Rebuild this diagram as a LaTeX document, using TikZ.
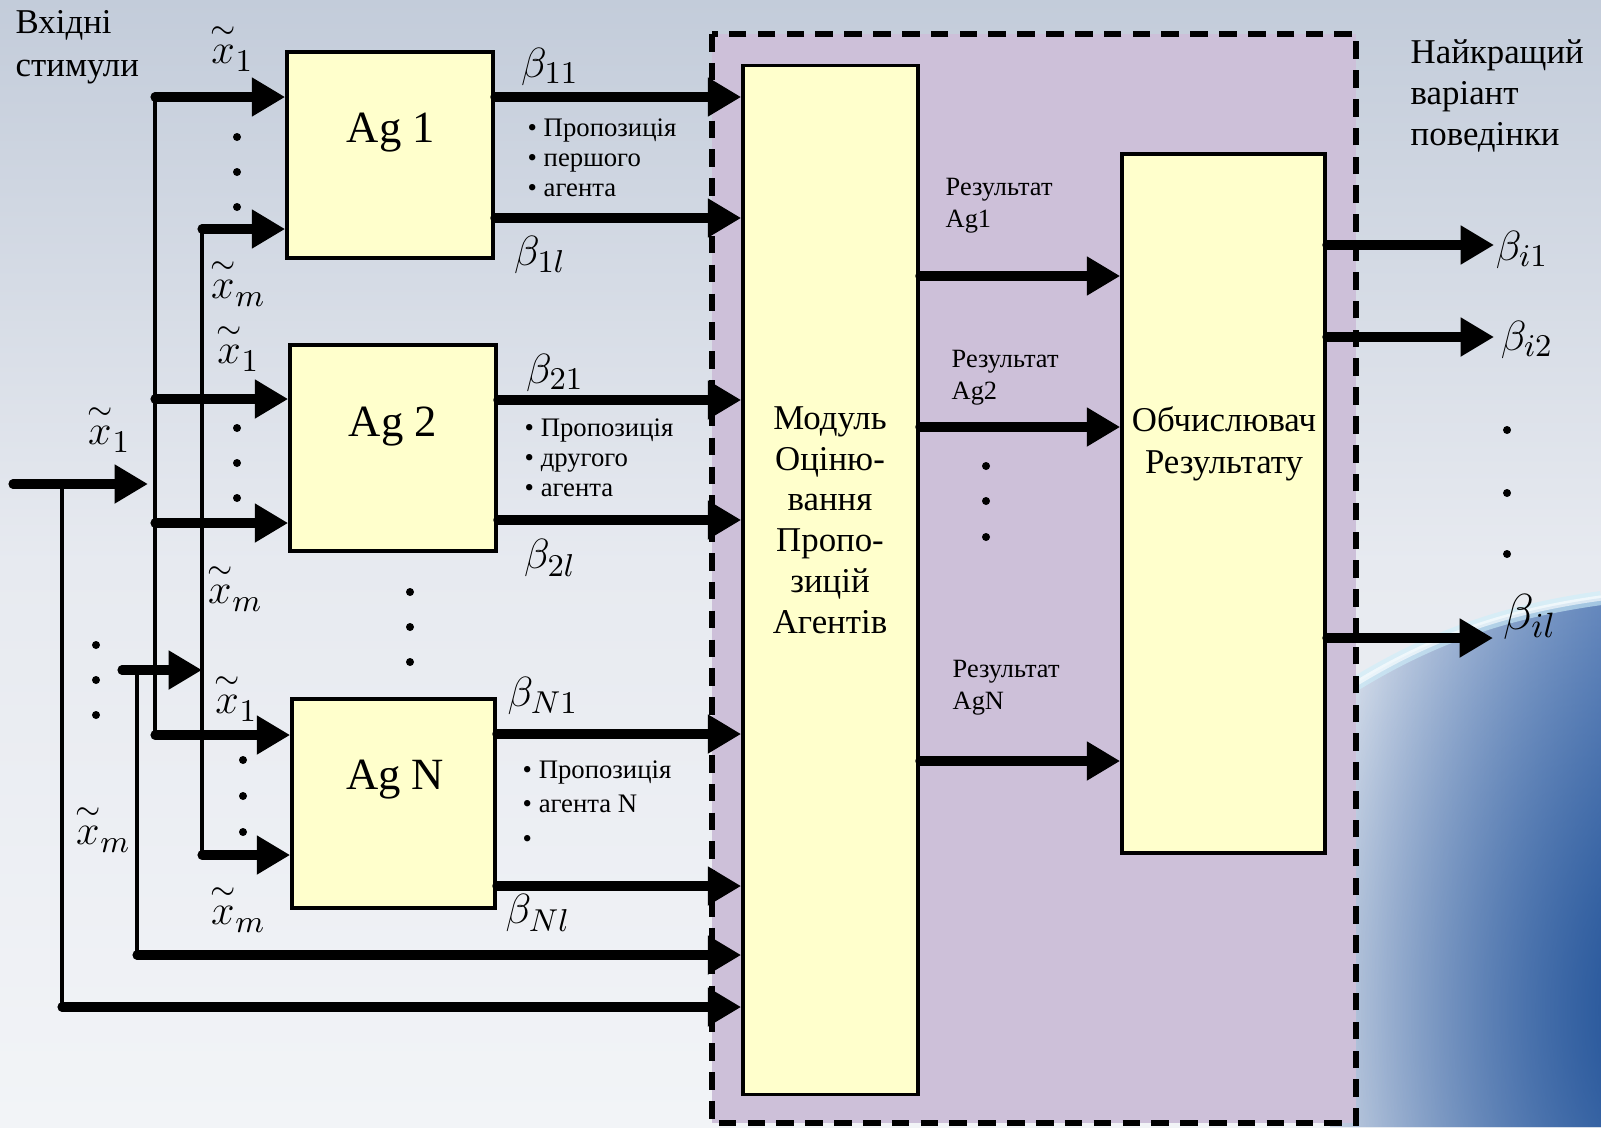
\documentclass[tikz,border=0pt]{standalone}
\usepackage{fontspec}
\setmainfont{Liberation Serif}
\usetikzlibrary{arrows.meta,fadings}
\definecolor{purp}{HTML}{CDC0D9}
\definecolor{yel}{HTML}{FFFFCC}
\definecolor{bgtop}{HTML}{C3CCDA}
\definecolor{bgmid}{HTML}{E7EAF0}
\definecolor{bgbot}{HTML}{F2F4F7}
\definecolor{glowc}{HTML}{174A92}
\definecolor{glowl}{HTML}{7E9CCB}
\definecolor{glowe}{HTML}{D6DEEA}
\definecolor{arcc}{HTML}{CDEFFA}
\tikzfading[name=glowfade, inner color=transparent!0, outer color=transparent!100]
\newcommand{\tx}{\stackrel{\sim}{x}}
\begin{document}
\begin{tikzpicture}[x=0.01cm,y=-0.01cm,
  bigarrow/.style={line width=2.6pt, line cap=round, -{Triangle[length=9.5pt,width=10.5pt]}},
  thinline/.style={line width=1.4pt},
  box/.style={draw, line width=1pt, fill=yel, inner sep=0pt},
  dot/.style={circle, fill=black, inner sep=0pt, minimum size=0.08cm},
  lbl/.style={font=\fontsize{9.9pt}{11.9pt}\selectfont, inner sep=0pt},
  agtxt/.style={font=\fontsize{12.7pt}{15pt}\selectfont, inner sep=0pt},
  small/.style={font=\fontsize{7.6pt}{8.5pt}\selectfont, inner sep=0pt, anchor=west, align=left},
  res/.style={font=\fontsize{7.5pt}{9pt}\selectfont, inner sep=0pt, anchor=west, align=left},
  mth/.style={font=\fontsize{13pt}{15pt}\selectfont, inner sep=0pt},
  ]
% background
\path[use as bounding box] (0,0) rectangle (1601,1127);
\shade[top color=bgtop, bottom color=bgbot, middle color=bgmid] (0,0) rectangle (1601,1127);
\begin{scope}
  \clip (1330,700) .. controls (1420,640) and (1500,612) .. (1601,598) -- (1601,1127) -- (1330,1127) -- cycle;
  \shade[left color=glowe, right color=glowl] (1330,590) rectangle (1601,1127);
  \fill[glowc, path fading=glowfade] (1690,1010) ellipse (400 and 560);
\end{scope}
\draw[arcc, line width=4pt, opacity=0.6] (1330,700) .. controls (1420,640) and (1500,612) .. (1601,598);
\draw[white, line width=1.5pt, opacity=0.6] (1330,700) .. controls (1420,640) and (1500,612) .. (1601,598);

% container
\draw[fill=purp, line width=1.5pt, dash pattern=on 5pt off 3.2pt] (712,34) rectangle (1356,1123);

% boxes
\node[box, minimum width=2.06cm, minimum height=2.06cm] (ag1) at (390,155) {};
\node[box, minimum width=2.06cm, minimum height=2.06cm] (ag2) at (393,448) {};
\node[box, minimum width=2.03cm, minimum height=2.09cm] (agN) at (393.5,803.5) {};
\node[box, minimum width=1.75cm, minimum height=10.28cm] (mod) at (830.5,580) {};
\node[box, minimum width=2.03cm, minimum height=6.99cm] (calc) at (1223.5,503.5) {};

\node[agtxt] (ag1t) at (391,133) {Ag 1};
\node[agtxt] (ag2t) at (393,427) {Ag 2};
\node[agtxt] (agNt) at (395,780) {Ag N};
\node[lbl, align=center, font=\fontsize{9.9pt}{11.6pt}\selectfont] (modt) at (830,520) {Модуль\\Оціню-\\вання\\Пропо-\\зицій\\Агентів};
\node[lbl, align=center] (calct) at (1224,444) {Обчислювач\\Результату};

% left and right labels
\node[lbl, anchor=base west] (inl1) at (15,34) {Вхідні};
\node[lbl, anchor=base west] (inl2) at (15,76) {стимули};
\node[lbl, anchor=base west] (outl1) at (1410,63) {Найкращий};
\node[lbl, anchor=base west] (outl2) at (1410,104) {варіант};
\node[lbl, anchor=base west] (outl3) at (1410,145) {поведінки};

% input buses
\coordinate (a1) at (155,97);
\coordinate (a2) at (155,735);
\coordinate (b1) at (202,229);
\coordinate (b2) at (202,855);
\draw[thinline] (a1) -- (a2);
\draw[thinline] (b1) -- (b2);
\draw[bigarrow] (a1) -- (ag1.west |- a1);
\draw[bigarrow] (b1) -- (ag1.west |- b1);
\draw[bigarrow] (a1 |- 0,399) -- (ag2.west |- 0,399);
\draw[bigarrow] (a1 |- 0,523) -- (ag2.west |- 0,523);
\draw[bigarrow] (a2) -- (agN.west |- a2);
\draw[bigarrow] (b2) -- (agN.west |- b2);

% main input
\coordinate (m0) at (13,484);
\coordinate (m1) at (62,484);
\coordinate (m2) at (62,1007);
\draw[bigarrow, shorten >=2pt] (m0) -- (a1 |- m0);
\draw[thinline] (m1) -- (m2);
\draw[bigarrow] (m2) -- (mod.west |- m2);

% lower input
\coordinate (l0) at (122,670);
\coordinate (l1) at (137,670);
\coordinate (l2) at (137,955);
\draw[bigarrow] (l0) -- (b1 |- l0);
\draw[thinline] (l1) -- (l2);
\draw[bigarrow] (l2) -- (mod.west |- l2);

% agent outputs
\draw[bigarrow] (ag1.east |- 0,97) -- (mod.west |- 0,97);
\draw[bigarrow] (ag1.east |- 0,218) -- (mod.west |- 0,218);
\draw[bigarrow] (ag2.east |- 0,400) -- (mod.west |- 0,400);
\draw[bigarrow] (ag2.east |- 0,520) -- (mod.west |- 0,520);
\draw[bigarrow] (agN.east |- 0,734) -- (mod.west |- 0,734);
\draw[bigarrow] (agN.east |- 0,886) -- (mod.west |- 0,886);

% module -> calc
\draw[bigarrow] (mod.east |- 0,276) -- (calc.west |- 0,276);
\draw[bigarrow] (mod.east |- 0,427) -- (calc.west |- 0,427);
\draw[bigarrow] (mod.east |- 0,761) -- (calc.west |- 0,761);

% outputs
\coordinate (o1) at (1494,245);
\coordinate (o2) at (1494,337);
\coordinate (o3) at (1493,638);
\draw[bigarrow] (calc.east |- o1) -- (o1);
\draw[bigarrow] (calc.east |- o2) -- (o2);
\draw[bigarrow] (calc.east |- o3) -- (o3);

% proposition texts
\node[small] (p1) at (527,158) {• Пропозиція\\• першого\\• агента};
\node[small] (p2) at (524,458) {• Пропозиція\\• другого\\• агента};
\node[small, font=\fontsize{7.6pt}{9.9pt}\selectfont] (pN) at (522,804) {• Пропозиція\\• агента N\\•};

\node[res] (r1) at (945,206) {Результат\\Ag1};
\node[res] (r2) at (951,378) {Результат\\Ag2};
\node[res] (rN) at (952,688) {Результат\\AgN};

% math labels
\node[mth] (x1a) at (232,47) {${\tx}_1$};
\node[mth] (xma) at (238,282) {${\tx}_m$};
\node[mth] (x1b) at (238,347) {${\tx}_1$};
\node[mth] (xmb) at (235,587) {${\tx}_m$};
\node[mth] (x1c) at (236,697) {${\tx}_1$};
\node[mth] (xmc) at (238,908) {${\tx}_m$};
\node[mth] (x1m) at (109,428) {${\tx}_1$};
\node[mth] (xmm) at (103,828) {${\tx}_m$};

\node[mth] (b11) at (550,67) {$\beta_{11}$};
\node[mth] (b1l) at (540,255) {$\beta_{1l}$};
\node[mth] (b21) at (555,373) {$\beta_{21}$};
\node[mth] (b2l) at (550,558) {$\beta_{2l}$};
\node[mth] (bN1) at (543,696) {$\beta_{N1}$};
\node[mth] (bNl) at (538,913) {$\beta_{Nl}$};
\node[mth] (bi1) at (1522,250) {$\beta_{i1}$};
\node[mth] (bi2) at (1527,340) {$\beta_{i2}$};
\node[mth, font=\fontsize{14.5pt}{17pt}\selectfont] (bil) at (1530,617) {$\beta_{il}$};

% dots
\foreach \px/\py [count=\i] in {237/137,237/172,237/207,237/428,237/463,237/498,243/760,243/796,243/832,96/645,96/680,96/715,410/592,410/627,410/662,986/466,986/501,986/537,1507/430,1507/493,1507/554}
  \node[dot] (dt\i) at (\px,\py) {};
\end{tikzpicture}
\end{document}
